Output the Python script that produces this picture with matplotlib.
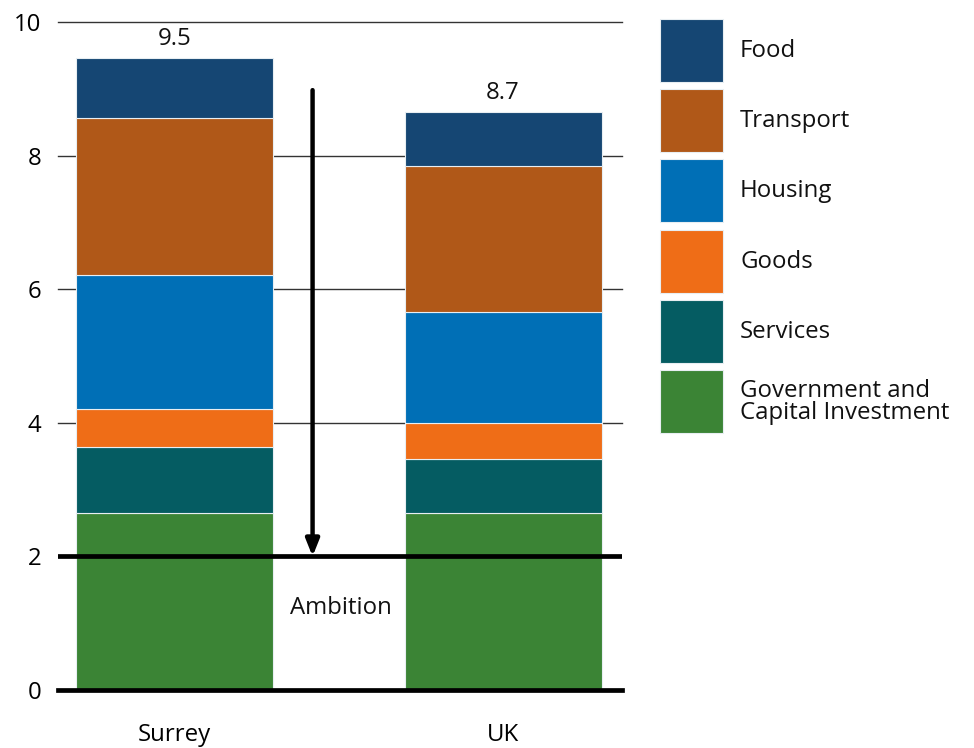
import matplotlib
matplotlib.use("Agg")
import matplotlib.pyplot as plt
from matplotlib.patches import Rectangle
import numpy as np

plt.rcParams['font.family'] = ['Open Sans', 'DejaVu Sans']
plt.rcParams['font.weight'] = 500

regions = ["Surrey", "UK"]
categories = ["Government and\nCapital Investment", "Services", "Goods",
              "Housing", "Transport", "Food"]
values = {
    "Government and\nCapital Investment": [2.65, 2.65],
    "Services": [0.99, 0.81],
    "Goods": [0.57, 0.54],
    "Housing": [2.00, 1.66],
    "Transport": [2.35, 2.18],
    "Food": [0.90, 0.82],
}
colors = {
    "Government and\nCapital Investment": "#3b8435",
    "Services": "#055c62",
    "Goods": "#ef6d17",
    "Housing": "#006fb6",
    "Transport": "#b05818",
    "Food": "#154673",
}
ambition = 2.0
arrow_start = 8.98
yticks = [0, 2, 4, 6, 8, 10]

FS = 17.3
W, H = 974, 748
fig = plt.figure(figsize=(W / 100, H / 100), dpi=100)
ax = fig.add_axes([58 / W, 1 - 690 / H, (622 - 58) / W, (690 - 22) / H])

x = np.arange(len(regions))
ax.set_xlim(-0.355, 1.362)
ax.set_ylim(0, 10)

# grid lines behind the bars
for yv in [4, 6, 8, 10]:
    ax.axhline(yv, color="#333333", lw=1.0, zorder=0, clip_on=False)

bottom = np.zeros(len(regions))
for cat in categories:
    v = np.array(values[cat])
    ax.bar(x, v, bottom=bottom, width=0.6, color=colors[cat],
           edgecolor="#e8eef2", linewidth=0.8, zorder=2)
    bottom += v

for xi, total in zip(x, bottom):
    ax.annotate(f"{total:.1f}", (xi, total), xytext=(0, 5),
                textcoords="offset points", ha="center", va="bottom",
                fontsize=FS, color="#111111")

# baseline and ambition line
ax.axhline(0, color="black", lw=3.4, zorder=4, clip_on=False)
ax.axhline(ambition, color="black", lw=3.4, zorder=4)

ax.annotate("", xy=(0.42, ambition), xytext=(0.42, arrow_start),
            arrowprops=dict(arrowstyle="-|>,head_width=0.4,head_length=1.0",
                            color="black", lw=3.2, shrinkA=0, shrinkB=0),
            zorder=5)
ax.text(0.505, 1.23, "Ambition", ha="center", va="center", fontsize=FS,
        color="#111111")

ax.set_yticks(yticks)
ax.set_yticklabels([str(t) for t in yticks], fontsize=FS)
ax.set_xticks(x)
ax.set_xticklabels(regions, fontsize=FS)
ax.tick_params(axis="both", length=0)
ax.tick_params(axis="y", pad=12)
ax.tick_params(axis="x", pad=24)
for s in ax.spines.values():
    s.set_visible(False)

# legend swatches drawn in figure pixels
legend_order = ["Food", "Transport", "Housing", "Goods", "Services",
                "Government and\nCapital Investment"]
for i, cat in enumerate(legend_order):
    top = 19 + i * 70.2
    fig.add_artist(Rectangle((660 / W, 1 - (top + 63) / H), 63 / W, 63 / H,
                             transform=fig.transFigure, facecolor=colors[cat],
                             edgecolor="#e8eef2", lw=0.8))
    fig.text(740 / W, 1 - (top + 32) / H, cat, ha="left", va="center",
             fontsize=FS, color="#111111", linespacing=0.88)

fig.savefig("out.png", dpi=100)
